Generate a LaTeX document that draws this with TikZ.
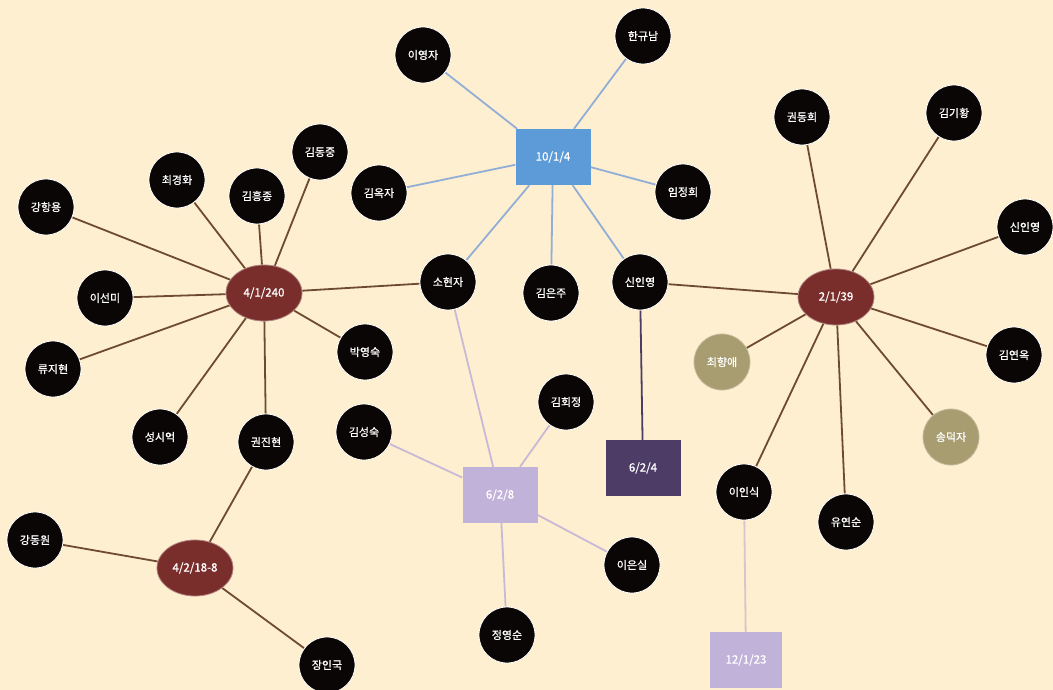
\documentclass[tikz,border=0pt]{standalone}
\usepackage{fontspec}
\newfontfamily\kr[FakeBold=0.7]{Noto Sans CJK KR}
\usetikzlibrary{shapes.geometric,backgrounds}
\definecolor{bg}{HTML}{FDEFCF}
\definecolor{person}{HTML}{0A0606}
\definecolor{gold}{HTML}{A89D70}
\definecolor{maroon}{HTML}{7A2E2B}
\definecolor{bluebox}{HTML}{5C9BD8}
\definecolor{blueedge}{HTML}{93AED6}
\definecolor{brownedge}{HTML}{6E4B30}
\definecolor{lilac}{HTML}{C1B2DA}
\definecolor{lilacedge}{HTML}{C9B9D6}
\definecolor{darkpurple}{HTML}{4D3D66}
\definecolor{pinkedge}{HTML}{D9C3CC}
\tikzset{
  person/.style={circle, fill=person, draw=white, line width=0.8pt, minimum size=56pt, inner sep=0pt, text=white, font=\kr\fontsize{11}{12}\selectfont},
  goldp/.style={person, fill=gold, draw=gold!70!white},
  famell/.style={ellipse, fill=maroon, draw=maroon!60!white, line width=0.8pt, minimum width=76pt, minimum height=56pt, inner sep=0pt, text=white, font=\kr\fontsize{11.5}{12}\selectfont},
  fambox/.style={rectangle, minimum width=75pt, minimum height=56pt, inner sep=0pt, text=white, font=\kr\fontsize{11.5}{12}\selectfont},
  bl/.style={draw=blueedge, line width=1.8pt},
  br/.style={draw=brownedge, line width=1.8pt},
  li/.style={draw=lilacedge, line width=1.8pt},
  dp/.style={draw=darkpurple, line width=1.8pt},
  pk/.style={draw=pinkedge, line width=1.8pt},
}
\begin{document}
\begin{tikzpicture}[x=1pt,y=-1pt]
\begin{pgfonlayer}{background}
\fill[bg] (0,0) rectangle (1053,690);
\end{pgfonlayer}
\useasboundingbox (0,0) rectangle (1053,690);
% family nodes
\node[fambox, fill=bluebox] (f10) at (553,157) {10/1/4};
\node[famell] (f41) at (264,293) {4/1/240};
\node[famell] (f21) at (836,297) {2/1/39};
\node[famell] (f42) at (195,568) {4/2/18-8};
\node[fambox, fill=lilac] (f628) at (500,495) {6/2/8};
\node[fambox, fill=darkpurple] (f624) at (643,468) {6/2/4};
\node[fambox, fill=lilac, minimum width=72pt] (f12) at (746,660) {12/1/23};
% persons
\node[person] (p1) at (423,55) {이영자};
\node[person] (p2) at (643,36) {한규남};
\node[person] (p3) at (379,193) {김옥자};
\node[person] (p4) at (683,192) {임정희};
\node[person] (p5) at (448,282) {소현자};
\node[person] (p6) at (551,293) {김은주};
\node[person] (p7) at (640,282) {신인영};
\node[person] (q1) at (802,117) {권동희};
\node[person] (q2) at (954,113) {김기황};
\node[person] (q3) at (1025,227) {신인영};
\node[goldp] (q4) at (722,362) {최향애};
\node[person] (q5) at (1014,355) {김연옥};
\node[goldp] (q6) at (951,437) {송덕자};
\node[person] (q7) at (744,492) {이인식};
\node[person] (q8) at (846,522) {유연순};
\node[person] (r1) at (566,402) {김회정};
\node[person] (r2) at (364,432) {김성숙};
\node[person] (r3) at (632,565) {이은실};
\node[person] (r4) at (507,635) {정영순};
\node[person] (s1) at (46,207) {강항용};
\node[person] (s2) at (177,180) {최경화};
\node[person] (s3) at (257,196) {김흥종};
\node[person] (s4) at (320,152) {김동중};
\node[person] (s5) at (105,298) {이선미};
\node[person] (s6) at (53,369) {류지현};
\node[person] (s7) at (160,437) {성시억};
\node[person] (s8) at (266,442) {권진현};
\node[person] (s9) at (365,352) {박영숙};
\node[person] (t1) at (35,540) {강동원};
\node[person] (t2) at (327,665) {장인국};
% edges
\begin{pgfonlayer}{background}
\foreach \p in {p1,p2,p3,p4,p5,p6,p7} \draw[bl] (f10) -- (\p);
\foreach \p in {s1,s2,s3,s4,s5,s6,s7,s8,s9,p5} \draw[br] (f41) -- (\p);
\foreach \p in {p7,q1,q2,q3,q4,q5,q6,q7,q8} \draw[br] (f21) -- (\p);
\foreach \p in {s8,t1,t2} \draw[br] (f42) -- (\p);
\foreach \p in {p5,r1,r2,r3,r4} \draw[li] (f628) -- (\p);
\draw[dp] (f624) -- (p7);
\draw[pk] (f12) -- (q7);
\end{pgfonlayer}
\end{tikzpicture}
\end{document}
